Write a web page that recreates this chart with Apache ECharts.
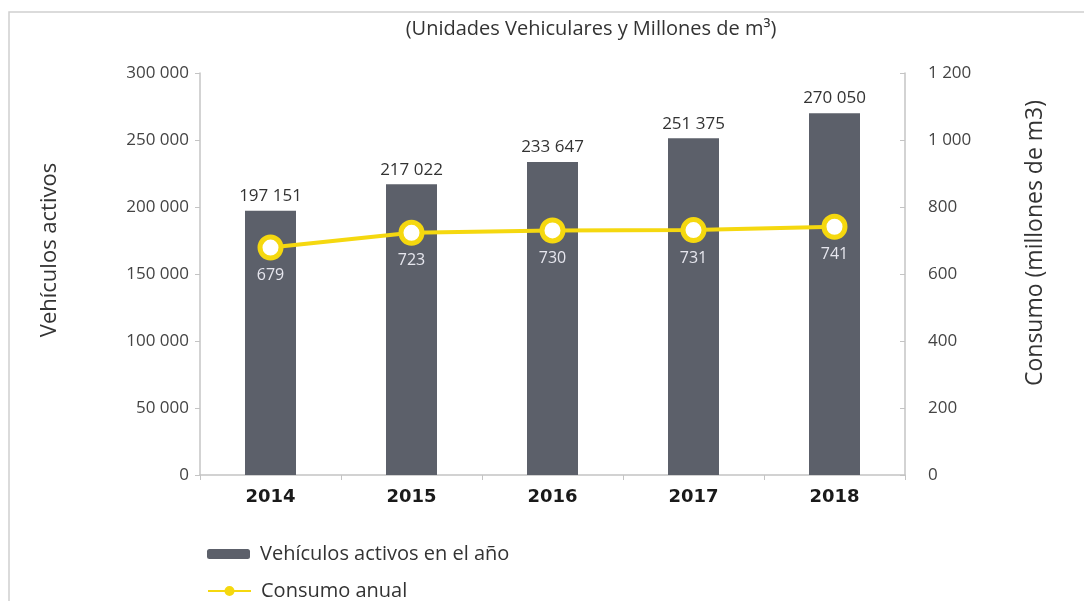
<!DOCTYPE html>
<html>
<head>
<meta charset="utf-8">
<script src="https://cdn.jsdelivr.net/npm/echarts@6/dist/echarts.min.js"></script>
<style>
  html, body { margin: 0; padding: 0; background: #ffffff; }
  #chart { width: 1084px; height: 601px; }
</style>
</head>
<body>
<div id="chart"></div>
<script>
// Parque vehicular a GNV y consumo anual
const years = ['2014', '2015', '2016', '2017', '2018'];
const vehiculos = [197151, 217022, 233647, 251375, 270050];
const consumo = [679, 723, 730, 731, 741];
const leftTicks = [0, 50000, 100000, 150000, 200000, 250000, 300000];
const rightTicks = [0, 200, 400, 600, 800, 1000, 1200];

const FONT = 'Open Sans, Noto Sans, sans-serif';
const YELLOW = '#f5d80f';

// thousands separated by a space: 197151 -> "197 151"
function miles(v) {
  return String(v).replace(/\B(?=(\d{3})+(?!\d))/g, ' ');
}

// one legend block per series, stacked under the plot
function legendRow(name, top) {
  return {
    left: 207,
    top: top,
    itemWidth: 43,
    itemHeight: 10,
    padding: 0,
    textStyle: { fontFamily: FONT, fontSize: 20, color: '#333333', padding: [0, 0, 0, 5] },
    data: [name]
  };
}

const chart = echarts.init(document.getElementById('chart'), null, { renderer: 'canvas' });

chart.setOption({
  backgroundColor: '#ffffff',
  animation: false,
  title: {
    text: '(Unidades Vehiculares y Millones de m³)',
    left: 586,
    textAlign: 'center',
    top: 14,
    textStyle: { fontFamily: FONT, fontSize: 20, fontWeight: 'normal', color: '#333333' }
  },
  graphic: [{
    type: 'polyline',
    shape: { points: [[9, 601], [9, 12], [1084, 12]] },
    style: { stroke: '#d0d0d0', lineWidth: 1.5, fill: null }
  }, {
    // axis titles
    type: 'text',
    x: 50, y: 250,
    rotation: Math.PI / 2,
    style: {
      text: 'Vehículos activos',
      font: '22px ' + FONT,
      fill: '#333333',
      align: 'center',
      verticalAlign: 'middle'
    }
  }, {
    type: 'text',
    x: 1035, y: 243,
    rotation: Math.PI / 2,
    style: {
      text: 'Consumo (millones de m3)',
      font: '23px ' + FONT,
      fill: '#333333',
      align: 'center',
      verticalAlign: 'middle'
    }
  }],
  legend: [
    legendRow('Vehículos activos en el año', 544),
    legendRow({ name: 'Consumo anual', itemStyle: { color: YELLOW, borderColor: YELLOW } }, 581)
  ],
  grid: { left: 200, right: 179, top: 73, bottom: 126 },
  xAxis: {
    type: 'category',
    data: years,
    axisLine: { lineStyle: { color: '#c4c4c4', width: 1.5 } },
    axisTick: { show: true, length: 5, lineStyle: { color: '#c4c4c4' } },
    axisLabel: { fontFamily: 'DejaVu Sans, sans-serif', fontSize: 18, fontWeight: 'bold', color: '#1a1a1a', margin: 13 }
  },
  yAxis: [{
    type: 'value',
    min: 0, max: 300000, interval: 50000,
    axisLine: { show: true, lineStyle: { color: '#c4c4c4', width: 1.5 } },
    axisTick: { show: true, length: 5, lineStyle: { color: '#c4c4c4' } },
    splitLine: { show: false },
    axisLabel: {
      fontFamily: FONT, fontSize: 17, color: '#444444', margin: 11,
      formatter: v => miles(v)
    }
  }, {
    type: 'value',
    min: 0, max: 1200, interval: 200,
    axisLine: { show: true, lineStyle: { color: '#c4c4c4', width: 1.5 } },
    axisTick: { show: true, inside: true, length: 5, lineStyle: { color: '#c4c4c4' } },
    splitLine: { show: false },
    axisLabel: {
      fontFamily: FONT, fontSize: 17, color: '#444444', margin: 23,
      formatter: v => miles(v)
    }
  }],
  series: [{
    name: 'Vehículos activos en el año',
    type: 'bar',
    yAxisIndex: 0,
    data: vehiculos,
    barWidth: 51,
    itemStyle: { color: '#5c606a' },
    label: {
      show: true,
      position: 'top',
      distance: 6,
      fontFamily: FONT,
      fontSize: 17,
      color: '#333333',
      formatter: p => miles(p.value)
    },
    z: 2
  }, {
    name: 'Consumo anual',
    type: 'line',
    yAxisIndex: 1,
    data: consumo,
    symbol: 'circle',
    symbolSize: 21,
    lineStyle: { color: YELLOW, width: 4 },
    itemStyle: { color: '#ffffff', borderColor: YELLOW, borderWidth: 5 },
    label: {
      show: true,
      position: 'bottom',
      distance: 7,
      fontFamily: FONT,
      fontSize: 16,
      color: '#e6e6ee'
    },
    z: 3
  }]
});
</script>
</body>
</html>
